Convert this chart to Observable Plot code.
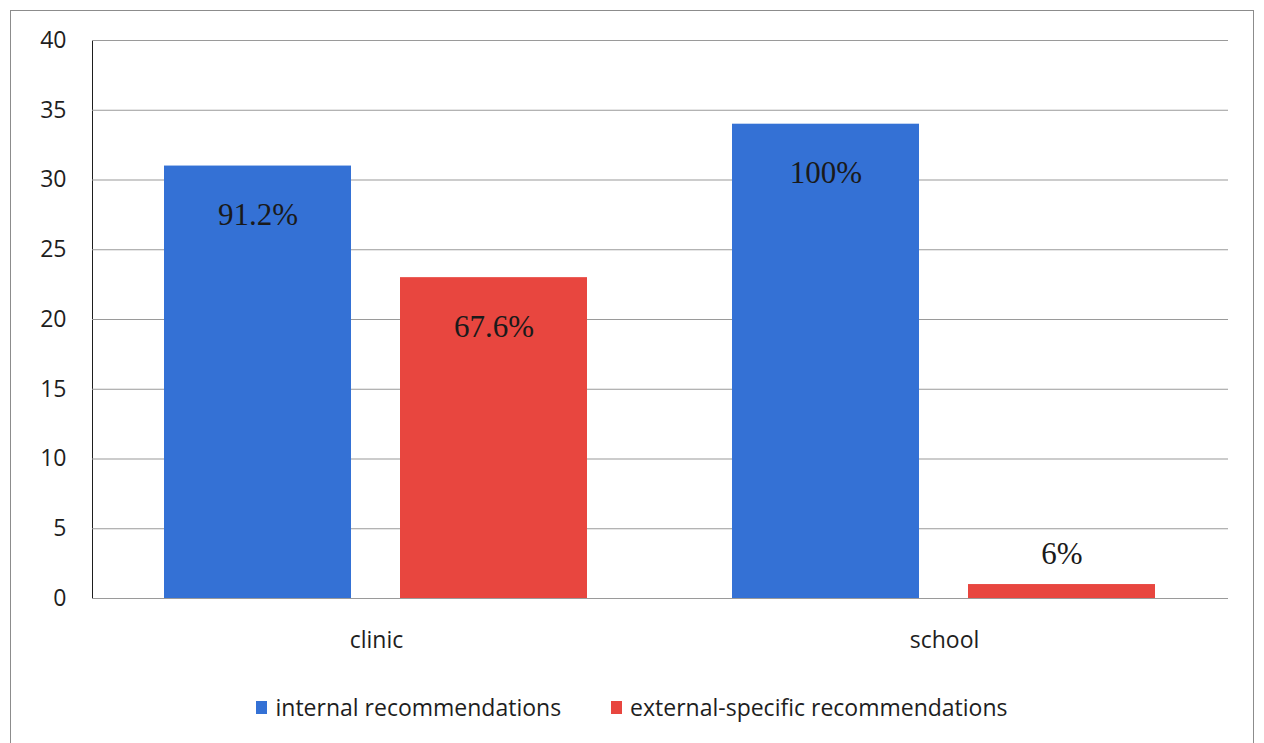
<!DOCTYPE html>
<html>
<head>
<meta charset="utf-8">
<script src="https://cdn.jsdelivr.net/npm/d3@7"></script>
<script src="https://cdn.jsdelivr.net/npm/@observablehq/plot@0.6"></script>
<style>
  html, body { margin: 0; padding: 0; background: #fff; }
  #frame {
    position: absolute; left: 10px; top: 10px;
    width: 1244px; height: 760px;
    border: 1.5px solid #8c8c8c; box-sizing: border-box;
  }
  #chart { position: absolute; left: 0; top: 0; }
  #legend {
    position: absolute; left: 10px; top: 691px; width: 1244px;
    display: flex; justify-content: center; gap: 50px;
    font-family: "Open Sans", sans-serif; font-size: 23px; color: #1e1e1e;
  }
  #legend .item { display: flex; align-items: center; gap: 8px; }
  #legend .sw { width: 11px; height: 13px; display: inline-block; }
  g[aria-label="y-axis"] path.domain { stroke: #8c8c8c; }
</style>
</head>
<body>
<div id="frame"></div>
<div id="chart"></div>
<div id="legend"></div>
<script>
// Groups along the bottom and the two recommendation series
const groups = ["clinic", "school"];
const series = ["internal recommendations", "external-specific recommendations"];
const internalCounts = [31, 34];
const externalCounts = [23, 1];
const internalLabels = ["91.2%", "100%"];
const externalLabels = ["67.6%", "6%"];
const colors = ["#3471d5", "#e8463f"];
const yTicks = [0, 5, 10, 15, 20, 25, 30, 35, 40];

// Long table for the grouped bars
const rows = [];
groups.forEach((g, i) => {
  rows.push({group: g, series: series[0], value: internalCounts[i], label: internalLabels[i]});
  rows.push({group: g, series: series[1], value: externalCounts[i], label: externalLabels[i]});
});

const chart = Plot.plot({
  width: 1264,
  height: 660,
  marginLeft: 91,
  marginRight: 36,
  marginTop: 40,
  marginBottom: 62,
  style: {fontFamily: "'Open Sans', sans-serif", fontSize: "23px", color: "#1e1e1e", background: "transparent"},
  facet: {data: rows, x: "group"},
  fx: {domain: groups, padding: 0, axis: "bottom", tickSize: 0, tickPadding: 33, label: null},
  x: {domain: series, axis: null, paddingInner: 0.206, paddingOuter: 0.3025},
  y: {domain: [0, 40], ticks: yTicks, tickSize: 0, tickPadding: 26, label: null, line: true},
  color: {domain: series, range: colors},
  marks: [
    Plot.ruleY(yTicks, {stroke: "#9a9a9a", strokeWidth: 1.2}),
    Plot.barY(rows, {x: "series", y: "value", fill: "series"}),
    // percentage labels: inside the tall bars, above the short one
    Plot.text(rows, {filter: d => d.value >= 5, x: "series", y: "value", text: "label", dy: 49,
      fontFamily: "'Liberation Serif', 'Times New Roman', serif", fontSize: 31, fill: "#1a1a1a"}),
    Plot.text(rows, {filter: d => d.value < 5, x: "series", y: "value", text: "label", dy: -30,
      fontFamily: "'Liberation Serif', 'Times New Roman', serif", fontSize: 31, fill: "#1a1a1a"})
  ]
});
document.getElementById("chart").appendChild(chart);

// Legend below the plot
const legend = document.getElementById("legend");
series.forEach((s, i) => {
  const item = document.createElement("span");
  item.className = "item";
  const sw = document.createElement("span");
  sw.className = "sw";
  sw.style.background = colors[i];
  const t = document.createElement("span");
  t.textContent = s;
  item.appendChild(sw);
  item.appendChild(t);
  legend.appendChild(item);
});
</script>
</body>
</html>
